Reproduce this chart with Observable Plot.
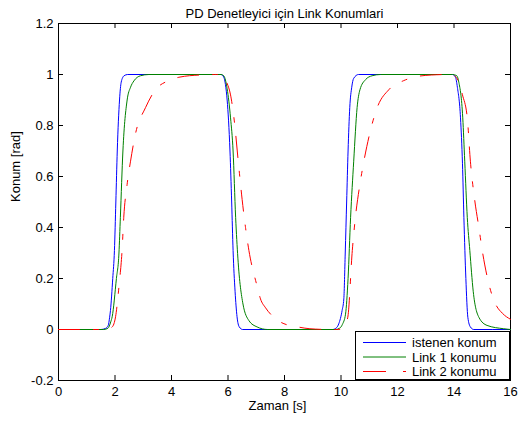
<!DOCTYPE html>
<html><head><meta charset="utf-8">
<script src="https://cdn.jsdelivr.net/npm/d3@7"></script>
<script src="https://cdn.jsdelivr.net/npm/@observablehq/plot@0.6"></script>
<style>
body{margin:0;background:#fff;font-family:"Liberation Sans",Arial,sans-serif;}
#wrap{position:relative;width:518px;height:423px;}
#legend{position:absolute;left:355px;top:331px;}
</style></head><body><div id="wrap"></div>
<script>
const titleText = "PD Denetleyici için Link Konumlari";
const xLabel = "Zaman [s]";
const yLabel = "Konum [rad]";
const xTicks = [0, 2, 4, 6, 8, 10, 12, 14, 16];
const yTicks = [-0.2, 0, 0.2, 0.4, 0.6, 0.8, 1, 1.2];
const seriesNames = ["istenen konum", "Link 1 konumu", "Link 2 konumu"];
const seriesColors = ["#0000ff", "#008000", "#ff0000"];
const seriesDash = [null, null, "21,14,5,14"];

// istenen konum (blue)
const istenenT = [0, 1.5, 1.66, 1.76, 1.81, 1.84, 1.92, 1.98, 2.03, 2.08, 2.16, 2.22, 2.32, 2.45,
  5.75, 5.85, 5.91, 5.97, 6.07, 6.13, 6.18, 6.25, 6.32, 6.40, 6.52,
  9.70, 9.85, 9.92, 10.04, 10.10, 10.15, 10.20, 10.25, 10.31, 10.38, 10.45, 10.62,
  13.95, 14.05, 14.12, 14.23, 14.30, 14.35, 14.42, 14.49, 14.58, 14.70, 16];
const istenenV = [0, 0, 0.004, 0.016, 0.048, 0.075, 0.2, 0.31, 0.5, 0.7, 0.9, 0.97, 0.995, 1,
  1, 0.99, 0.96, 0.9, 0.7, 0.5, 0.31, 0.15, 0.05, 0.01, 0,
  0, 0.008, 0.022, 0.075, 0.12, 0.3, 0.5, 0.7, 0.87, 0.95, 0.985, 1,
  1, 0.99, 0.95, 0.83, 0.65, 0.44, 0.2, 0.048, 0.01, 0, 0];

// Link 1 konumu (green)
const link1T = [0, 1.6, 1.75, 1.85, 1.90, 2.05, 2.14, 2.19, 2.28, 2.43, 2.55, 2.67, 2.90, 3.2,
  5.75, 5.85, 5.97, 6.09, 6.18, 6.27, 6.35, 6.53, 6.74, 7.03, 7.4,
  9.8, 9.95, 10.05, 10.16, 10.25, 10.34, 10.45, 10.57, 10.67, 10.87, 11.1, 11.4,
  13.95, 14.1, 14.17, 14.31, 14.38, 14.47, 14.56, 14.68, 14.88, 15.17, 15.76, 16];
const link1V = [0, 0, 0.005, 0.03, 0.05, 0.2, 0.3, 0.44, 0.7, 0.9, 0.95, 0.975, 0.995, 1,
  1, 0.995, 0.944, 0.83, 0.7, 0.44, 0.28, 0.1, 0.035, 0.01, 0,
  0, 0.005, 0.02, 0.06, 0.2, 0.44, 0.66, 0.87, 0.94, 0.98, 0.995, 1,
  1, 0.995, 0.97, 0.83, 0.66, 0.44, 0.31, 0.15, 0.048, 0.016, 0.003, 0];

// Link 2 konumu (red)
const link2T = [0, 1.7, 1.9, 2.02, 2.15, 2.25, 2.31, 2.43, 2.55, 2.73, 3.08, 3.43, 3.85, 4.3, 5.0,
  5.6, 5.8, 5.95, 6.09, 6.21, 6.38, 6.50, 6.62, 6.74, 7.03, 7.15, 7.33, 7.62, 8.1, 8.33, 8.9, 9.6,
  9.9, 10.1, 10.24, 10.40, 10.51, 10.67, 10.81, 11.02, 11.28, 11.69, 12.22, 12.6, 13.2,
  13.8, 14.0, 14.17, 14.3, 14.47, 14.58, 14.73, 14.88, 15.00, 15.23, 15.47, 15.71, 16];
const link2V = [0, 0, 0.01, 0.05, 0.18, 0.31, 0.44, 0.57, 0.66, 0.77, 0.87, 0.94, 0.974, 0.99, 0.998,
  1, 0.996, 0.97, 0.92, 0.83, 0.64, 0.51, 0.40, 0.31, 0.17, 0.12, 0.085, 0.048, 0.018, 0.013, 0.003, 0,
  0, 0.01, 0.048, 0.31, 0.44, 0.57, 0.66, 0.77, 0.87, 0.94, 0.976, 0.99, 0.998,
  1, 0.996, 0.97, 0.92, 0.83, 0.66, 0.51, 0.40, 0.31, 0.18, 0.10, 0.064, 0.04];

const seriesT = [istenenT, link1T, link2T];
const seriesV = [istenenV, link1V, link2V];
const rows = seriesT.map((ts, i) => ts.map((t, j) => ({t, v: seriesV[i][j]})));

const W = 518, H = 423, mL = 58, mR = 8, mT = 23, mB = 43;
const pw = W - mL - mR, ph = H - mT - mB, tk = 5;
const fs = 13;

const marks = [
  Plot.frame({stroke: "black", strokeWidth: 1}),
  Plot.ruleX(xTicks, {x: d => d, insetTop: ph - tk, stroke: "black"}),
  Plot.ruleX(xTicks, {x: d => d, insetBottom: ph - tk, stroke: "black"}),
  Plot.ruleY(yTicks, {y: d => d, insetRight: pw - tk, stroke: "black"}),
  Plot.ruleY(yTicks, {y: d => d, insetLeft: pw - tk, stroke: "black"}),
  Plot.axisX({ticks: xTicks, tickSize: 0, tickPadding: 6, fontSize: fs, tickFormat: d => String(d), label: null}),
  Plot.axisY({ticks: yTicks, tickSize: 0, tickPadding: 5, fontSize: fs, tickFormat: d => String(d), label: null}),
  Plot.text([titleText], {text: d => d, frameAnchor: "top", dy: -15, fontSize: fs, fill: "black"}),
  Plot.text([xLabel], {text: d => d, frameAnchor: "bottom", dy: 29, dx: -7, fontSize: fs, fill: "black"}),
  Plot.text([yLabel], {text: d => d, frameAnchor: "left", rotate: -90, dx: -43, fontSize: fs, fill: "black"})
];
rows.forEach((data, i) => {
  marks.push(Plot.line(data, {x: "t", y: "v", stroke: seriesColors[i], strokeWidth: 1,
    strokeDasharray: seriesDash[i], curve: "monotone-x"}));
});

const chart = Plot.plot({
  width: W, height: H,
  marginLeft: mL, marginRight: mR, marginTop: mT, marginBottom: mB,
  style: {fontFamily: '"Liberation Sans", Arial, sans-serif', fontSize: fs + "px", background: "#fff", color: "black"},
  x: {domain: [0, 16]},
  y: {domain: [-0.2, 1.2]},
  marks
});
const wrap = document.getElementById("wrap");
wrap.appendChild(chart);

// legend
const lg = document.createElement("div");
lg.id = "legend";
const lw = 155, lh = 49;
let s = `<svg width="${lw}" height="${lh}" xmlns="http://www.w3.org/2000/svg" style="display:block">`;
s += `<rect x="0.5" y="0.5" width="${lw - 1}" height="${lh - 1}" fill="#fff" stroke="#000" stroke-width="1"/>`;
const legDash = [null, null, "23,17,3,17"];
seriesNames.forEach((n, i) => {
  const y = 11.5 + i * 14.5;
  s += `<line x1="8" x2="51" y1="${y}" y2="${y}" stroke="${seriesColors[i]}" stroke-width="1" ${legDash[i] ? `stroke-dasharray="${legDash[i]}"` : ""}/>`;
  s += `<text x="57" y="${y}" dy="0.35em" font-size="${fs}" font-family="Liberation Sans, Arial, sans-serif" fill="#000">${n}</text>`;
});
s += `</svg>`;
lg.innerHTML = s;
wrap.appendChild(lg);
</script></body></html>
